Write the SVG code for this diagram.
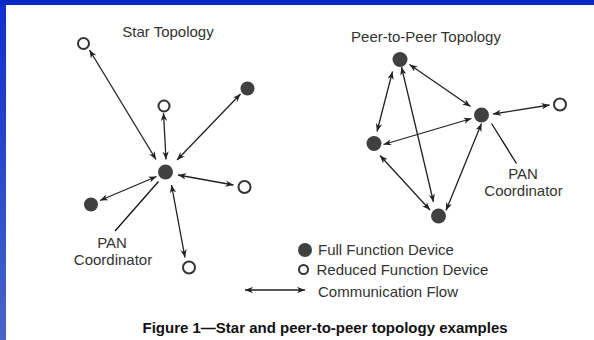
<svg xmlns="http://www.w3.org/2000/svg" width="594" height="340" viewBox="0 0 594 340">
<defs>
<linearGradient id="lg" x1="0" y1="0" x2="0" y2="1">
<stop offset="0" stop-color="#0f2fcf"/>
<stop offset="1" stop-color="#4a64c8"/>
</linearGradient>
<marker id="ah" viewBox="0 0 10 8" refX="10" refY="4" markerWidth="8" markerHeight="6.4" markerUnits="userSpaceOnUse" orient="auto-start-reverse">
<path d="M0,0 L10,4 L0,8 L3,4 z" fill="#222"/>
</marker>
<style>
.t{font-family:"Liberation Sans",Arial,sans-serif;font-size:15px;fill:#333}
.cap{font-family:"Liberation Sans",Arial,sans-serif;font-size:15px;font-weight:bold;fill:#111}
.ffd{fill:#404040}
.rfd{fill:#fff;stroke:#333;stroke-width:2}
.c line{stroke:#222;stroke-width:1.3;marker-start:url(#ah);marker-end:url(#ah)}
.lead{stroke:#111;stroke-width:1.3}
</style>
</defs>
<rect x="0" y="0" width="594" height="340" fill="#fff"/>
<rect x="0" y="0" width="594" height="5" fill="#0a28c8"/>
<rect x="0" y="5" width="6" height="335" fill="url(#lg)"/>

<text class="t" x="168" y="37" text-anchor="middle">Star Topology</text>
<text class="t" x="426" y="42" text-anchor="middle">Peer-to-Peer Topology</text>

<g class="c" id="connectors">
<line x1="89.5" y1="50" x2="156" y2="159.5"/>
<line x1="163.5" y1="113" x2="166" y2="159.5"/>
<line x1="240.5" y1="94" x2="177" y2="160"/>
<line x1="100" y1="200.5" x2="156.5" y2="176.5"/>
<line x1="178" y1="175" x2="233.5" y2="185"/>
<line x1="171.5" y1="185" x2="185" y2="257.5"/>
<line x1="409.5" y1="64.5" x2="470.5" y2="106.5"/>
<line x1="392.5" y1="71.5" x2="377" y2="131.5"/>
<line x1="401.5" y1="67" x2="433.5" y2="202"/>
<line x1="383.5" y1="144.5" x2="471.5" y2="118.5"/>
<line x1="493" y1="114" x2="549.5" y2="105"/>
<line x1="380" y1="155.5" x2="430" y2="210"/>
<line x1="481.5" y1="123.5" x2="446" y2="210.5"/>
<line x1="245" y1="290" x2="305" y2="290"/>
</g>

<g id="star-pan">
<circle class="ffd" cx="165.5" cy="172" r="7.5"/>
<line class="lead" x1="158.5" y1="181.5" x2="115" y2="231"/>
<text class="t" x="112" y="247.5" text-anchor="middle">PAN</text>
<text class="t" x="113" y="265" text-anchor="middle">Coordinator</text>
</g>
<g id="star-rfd-topleft"><circle class="rfd" cx="83.5" cy="43.5" r="5.5"/></g>
<g id="star-rfd-top"><circle class="rfd" cx="164" cy="106" r="5.5"/></g>
<g id="star-ffd-topright"><circle class="ffd" cx="247.5" cy="88.5" r="7"/></g>
<g id="star-ffd-left"><circle class="ffd" cx="91" cy="204.5" r="7"/></g>
<g id="star-rfd-right"><circle class="rfd" cx="244.5" cy="187" r="6"/></g>
<g id="star-rfd-bottom"><circle class="rfd" cx="189" cy="267.5" r="6"/></g>

<g id="p2p-top"><circle class="ffd" cx="400" cy="59.5" r="7.5"/></g>
<g id="p2p-pan">
<circle class="ffd" cx="481.5" cy="115" r="7.5"/>
<line class="lead" x1="491.5" y1="123.5" x2="516.5" y2="163.5"/>
<text class="t" x="523" y="178.5" text-anchor="middle">PAN</text>
<text class="t" x="523.5" y="196" text-anchor="middle">Coordinator</text>
</g>
<g id="p2p-rfd"><circle class="rfd" cx="560" cy="104.5" r="6"/></g>
<g id="p2p-left"><circle class="ffd" cx="374" cy="143.5" r="7.5"/></g>
<g id="p2p-bottom"><circle class="ffd" cx="438.5" cy="216" r="7.5"/></g>

<g id="legend">
<circle class="ffd" cx="305" cy="250" r="7"/>
<text class="t" x="318" y="255">Full Function Device</text>
<circle class="rfd" cx="303.5" cy="269.5" r="4.5"/>
<text class="t" x="316.5" y="275">Reduced Function Device</text>
<text class="t" x="318" y="296.5">Communication Flow</text>
</g>

<text class="cap" x="142.5" y="332.5">Figure 1—Star and peer-to-peer topology examples</text>
</svg>
